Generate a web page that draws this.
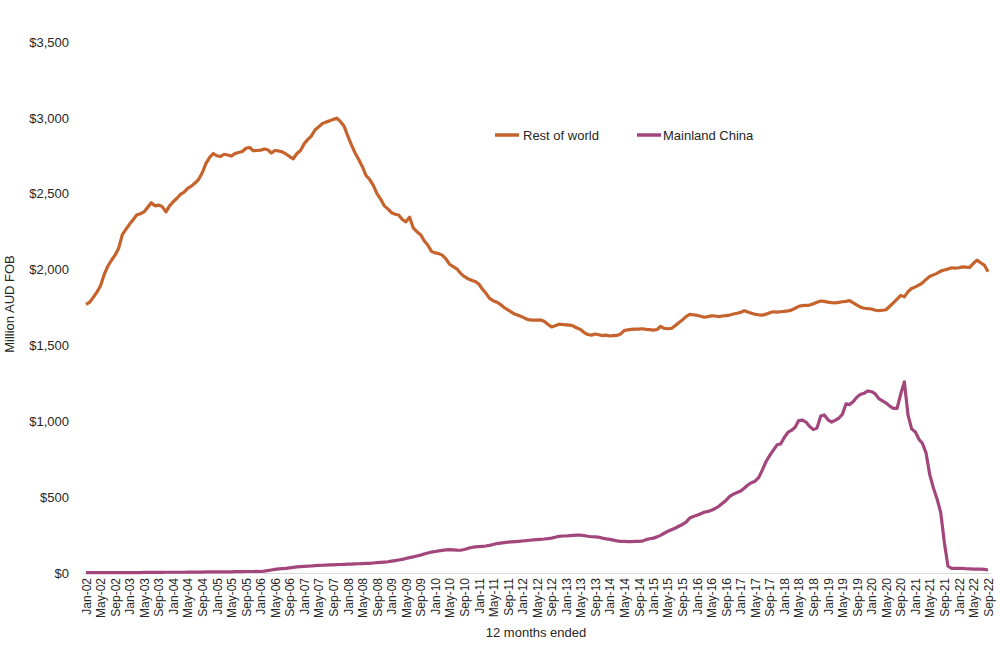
<!DOCTYPE html>
<html>
  <head>
    <meta charset="utf-8" />
    <title>Rest of world vs Mainland China</title>
    <style>
      body {
        margin: 0;
        background: #fff;
      }
      svg text {
        font-family: "Liberation Sans", Arial, sans-serif;
        fill: #262626;
      }
    </style>
    <script src="https://d3js.org/d3.v7.min.js"></script>
  </head>
  <body>
    <div id="chart"></div>
    <script type="text/javascript">
      // 12 months ended, monthly from Jan-02 to Sep-22
      var startMonth = new Date(2002, 0, 1);
      var endMonth = new Date(2022, 8, 1);

      // Million AUD FOB, one row per year
      var restOfWorld = [
        1770, 1785, 1815, 1850, 1890, 1965, 2020, 2060, 2095, 2140, 2230, 2265,
        2300, 2330, 2360, 2368, 2380, 2410, 2440, 2420, 2425, 2415, 2380, 2420,
        2447, 2470, 2495, 2510, 2535, 2550, 2570, 2595, 2640, 2700, 2740, 2765,
        2750, 2745, 2760, 2755, 2748, 2765, 2772, 2778, 2800, 2805, 2783, 2785,
        2787, 2795, 2790, 2768, 2785, 2782, 2776, 2762, 2745, 2730, 2765, 2785,
        2830, 2858, 2880, 2920, 2940, 2962, 2972, 2980, 2990, 2998, 2975, 2945,
        2880, 2820, 2770, 2725, 2680, 2620, 2595, 2555, 2500, 2465, 2420, 2400,
        2375, 2365, 2360, 2330, 2315, 2345, 2275, 2250, 2230, 2190, 2160, 2120,
        2110, 2105, 2095, 2070, 2035, 2020, 2005, 1975, 1955, 1940, 1930, 1922,
        1905, 1870, 1845, 1810, 1795, 1785, 1770, 1750, 1735, 1720, 1705, 1697,
        1688, 1675, 1668, 1667, 1667, 1668, 1660, 1640, 1622, 1630, 1640, 1638,
        1636, 1634, 1628, 1615, 1605, 1585, 1572, 1568, 1575, 1570, 1565, 1568,
        1562, 1565, 1566, 1575, 1598, 1603, 1606, 1608, 1607, 1610, 1606, 1604,
        1601, 1605, 1625, 1612, 1610, 1612, 1630, 1650, 1668, 1690, 1705, 1702,
        1698, 1692, 1686, 1690, 1695, 1694, 1690, 1694, 1697, 1700, 1707, 1712,
        1718, 1728, 1720, 1712, 1705, 1702, 1700, 1706, 1716, 1722, 1720, 1722,
        1724, 1728, 1733, 1745, 1758, 1762, 1764, 1766, 1775, 1785, 1793, 1790,
        1785, 1782, 1780, 1784, 1788, 1790, 1795, 1780, 1766, 1752, 1745, 1742,
        1740, 1732, 1730, 1732, 1735, 1758, 1780, 1805, 1830, 1820, 1855, 1875,
        1886, 1898, 1912, 1935, 1955, 1965, 1975, 1990, 1997, 2003, 2012, 2010,
        2012, 2018, 2016, 2015, 2040, 2062, 2045, 2030, 1985
      ];

      var mainlandChina = [
        2, 2, 2, 2, 2, 3, 3, 3, 3, 3, 3, 3,
        3, 3, 3, 3, 4, 4, 4, 4, 4, 4, 5, 5,
        5, 5, 5, 5, 6, 6, 6, 6, 6, 7, 7, 7,
        7, 8, 8, 8, 8, 9, 9, 9, 10, 10, 10, 11,
        10, 12, 16, 20, 24, 27, 29, 31, 34, 37, 40, 42,
        44, 45, 46, 48, 50, 51, 52, 53, 54, 55, 56, 57,
        58, 59, 60, 61, 62, 63, 64, 66, 68, 70, 72, 74,
        78, 82, 86, 90, 96, 101, 106, 112, 118, 125, 132, 138,
        142, 146, 149, 152, 154, 153, 151, 150, 155, 162, 168, 172,
        174, 176, 178, 182, 188, 194, 197, 200, 203, 205, 207, 209,
        211, 213, 216, 218, 220, 222, 224, 227, 230, 236, 242, 244,
        244, 246, 248, 250, 249, 246, 242, 239, 238, 236, 230, 225,
        222, 217, 212, 209, 208, 207, 207, 208, 209, 210, 220, 226,
        230, 238, 248, 262, 275, 285, 295, 308, 320, 335, 362, 372,
        380, 390, 400, 406, 414, 425, 440, 460, 480, 505, 520, 530,
        540, 560, 580, 595, 605, 630, 680, 735, 775, 810, 845, 850,
        895, 928, 940, 960, 1005, 1008, 995, 965, 945, 955, 1035, 1042,
        1010, 995, 1006, 1020, 1045, 1115, 1110, 1130, 1160, 1178, 1185, 1200,
        1195, 1180, 1150, 1135, 1120, 1100, 1085, 1085, 1180, 1260, 1040, 950,
        930, 880, 855, 790, 650, 560, 490, 400, 200, 45, 31, 31,
        31, 30, 28, 27, 26, 26, 25, 24, 20
      ];

      var seriesNames = ["Rest of world", "Mainland China"];
      var seriesColors = ["#c6632d", "#a2467c"];
      var yTicks = [0, 500, 1000, 1500, 2000, 2500, 3000, 3500];

      var w = 1000;
      var h = 653;
      var margin = { top: 42, right: 12, bottom: 80, left: 86 };

      var months = d3.timeMonth.range(startMonth, d3.timeMonth.offset(endMonth, 1));
      var series = [restOfWorld, mainlandChina].map(function (vals, k) {
        return {
          name: seriesNames[k],
          color: seriesColors[k],
          values: vals.map(function (v, i) {
            return { date: months[i], value: v };
          })
        };
      });

      var svg = d3
        .select("#chart")
        .append("svg")
        .attr("width", w)
        .attr("height", h);

      var x = d3
        .scaleTime()
        .domain([startMonth, endMonth])
        .range([margin.left, 988]);

      var y = d3
        .scaleLinear()
        .domain([0, 3500])
        .range([573, margin.top]);

      // y axis labels only, no line or ticks
      var yAxis = svg
        .append("g")
        .attr("transform", "translate(" + (margin.left - 14) + ",0)")
        .call(
          d3
            .axisLeft(y)
            .tickValues(yTicks)
            .tickSize(0)
            .tickFormat(function (d) {
              return "$" + d3.format(",")(d);
            })
        );
      yAxis.select(".domain").remove();
      yAxis.selectAll("text").attr("font-size", 13).attr("dx", 0);

      // x axis with a tick label every four months
      var xTickDates = months.filter(function (d, i) {
        return i % 4 === 0;
      });
      var xAxis = svg
        .append("g")
        .attr("transform", "translate(0," + y(0) + ")")
        .call(
          d3
            .axisBottom(x)
            .tickValues(xTickDates)
            .tickSize(0)
            .tickFormat(d3.timeFormat("%b-%y"))
        );
      xAxis
        .select(".domain")
        .attr("stroke", "#d9d9d9")
        .attr("d", "M" + (margin.left - 3) + ",0.5H991");
      xAxis
        .selectAll("text")
        .attr("font-size", 12)
        .attr("text-anchor", "end")
        .attr("transform", "rotate(-90)")
        .attr("x", -5)
        .attr("y", 0)
        .attr("dy", "0.35em");

      // axis titles
      svg
        .append("text")
        .attr("transform", "translate(14,304)rotate(-90)")
        .attr("text-anchor", "middle")
        .attr("font-size", 13)
        .text("Million AUD FOB");

      svg
        .append("text")
        .attr("x", 536)
        .attr("y", 637)
        .attr("text-anchor", "middle")
        .attr("font-size", 13)
        .text("12 months ended");

      // lines
      var line = d3
        .line()
        .x(function (d) {
          return x(d.date);
        })
        .y(function (d) {
          return y(d.value);
        });

      svg
        .selectAll("path.series")
        .data(series)
        .enter()
        .append("path")
        .attr("class", "series")
        .attr("fill", "none")
        .attr("stroke", function (d) {
          return d.color;
        })
        .attr("stroke-width", 3.2)
        .attr("stroke-linejoin", "round")
        .attr("d", function (d) {
          return line(d.values);
        });

      // legend
      var legendX = [495, 637];
      var legend = svg
        .selectAll("g.legend")
        .data(series)
        .enter()
        .append("g")
        .attr("class", "legend")
        .attr("transform", function (d, i) {
          return "translate(" + legendX[i] + ",135)";
        });
      legend
        .append("line")
        .attr("x1", 0)
        .attr("x2", 24)
        .attr("stroke", function (d) {
          return d.color;
        })
        .attr("stroke-width", 3.5);
      legend
        .append("text")
        .attr("x", function (d, i) {
          return i === 0 ? 28 : 26;
        })
        .attr("dy", "0.35em")
        .attr("font-size", 13)
        .text(function (d) {
          return d.name;
        });
    </script>
  </body>
</html>
